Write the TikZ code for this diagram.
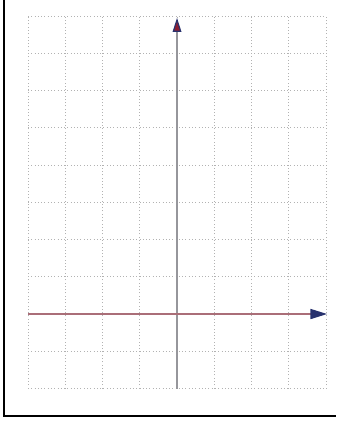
\documentclass[tikz,border=0pt]{standalone}
\usetikzlibrary{arrows.meta}
\tikzset{>={Triangle[length=4.5mm,width=2.8mm]}}
\tikzset{gridline/.style={draw=gray!60,dotted,line width=0.8pt}}
\tikzset{axis/.style={line width=1pt}}
\tikzset{frameline/.style={line width=1.6pt,black}}
\definecolor{yaxis}{RGB}{150,150,155}
\definecolor{xaxis}{RGB}{170,110,120}
\definecolor{tipred}{RGB}{140,30,50}
\definecolor{tipblue}{RGB}{40,50,110}

\begin{document}
\begin{tikzpicture}[x=1.1175cm,y=1.1175cm]
\useasboundingbox (-4.752,-2.872) rectangle (4.268,8.430);

% frame, left and bottom sides only
\coordinate (ftop) at (-4.644,8.430);
\coordinate (fcorner) at (-4.644,-2.738);
\coordinate (fright) at (4.268,-2.738);
\draw[frameline] (ftop) -- (fcorner) -- (fright);

% dotted grid
\draw[gridline,step=1] (-4,-2) grid (4,8);

% axes
\coordinate (xmin) at (-4,0);
\coordinate (xmax) at (4.03,0);
\coordinate (ymin) at (0,-2);
\coordinate (ymax) at (0,7.95);

\draw[axis,yaxis,-{Triangle[length=4.2mm,width=2.6mm,fill=tipred,color=tipblue]}] (ymin) -- (ymax);
\draw[axis,xaxis,line width=1.3pt,-{Triangle[length=5mm,width=3mm,fill=tipblue,color=tipblue]}] (xmin) -- (xmax);
\end{tikzpicture}
\end{document}
